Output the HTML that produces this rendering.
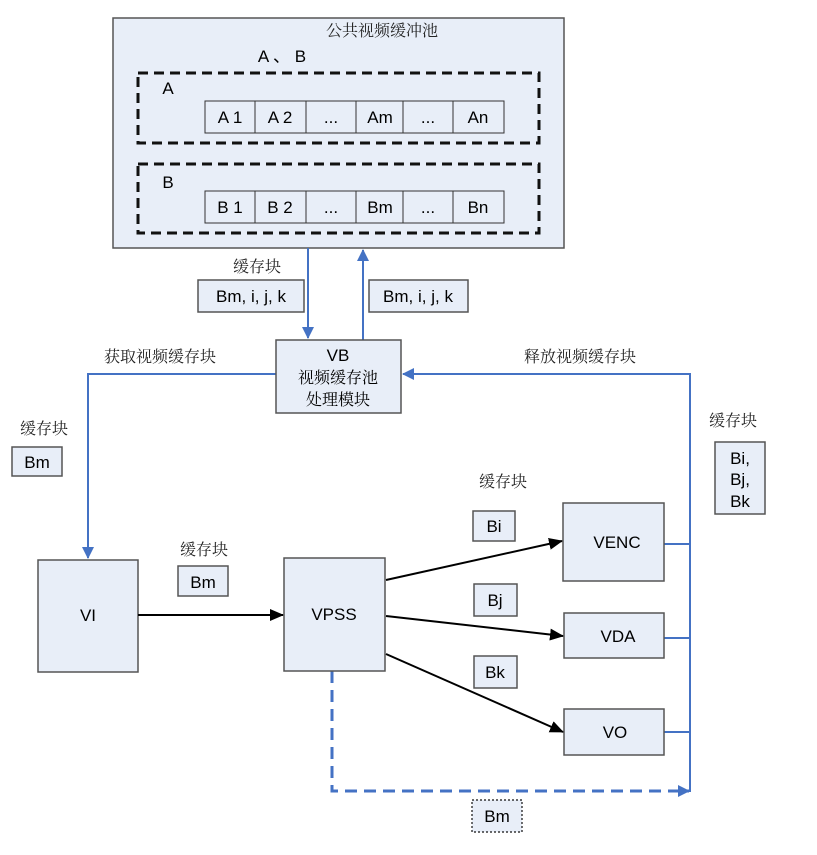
<!DOCTYPE html>
<html><head><meta charset="utf-8"><style>
html,body{margin:0;padding:0;background:#fff;}
svg{display:block;}
.s{font-family:"Liberation Sans","Noto Sans CJK SC",sans-serif;font-size:17px;fill:#000;}
.c{font-family:"Liberation Serif","Noto Serif CJK SC",serif;font-size:16px;fill:#222;}
</style></head><body>
<svg width="817" height="855" viewBox="0 0 817 855" xmlns="http://www.w3.org/2000/svg">
<defs>
<marker id="bk" markerWidth="14" markerHeight="12" refX="13" refY="6" orient="auto" markerUnits="userSpaceOnUse"><path d="M0,0 L14,6 L0,12 z" fill="#000"/></marker>
<marker id="bl" markerWidth="12" markerHeight="14" refX="11" refY="6" orient="auto" markerUnits="userSpaceOnUse"><path d="M0,0 L12,6 L0,12 z" fill="#4472c4"/></marker>
</defs>
<g fill="#e8eef8" stroke="#555" stroke-width="1.5">
<rect x="113" y="18" width="451" height="230"/>
</g>
<text class="c" x="382" y="36" text-anchor="middle">公共视频缓冲池</text>
<text class="s" x="282" y="62" text-anchor="middle">A 、 B</text>
<rect x="138" y="73" width="401" height="70" fill="none" stroke="#111" stroke-width="3" stroke-dasharray="10,6"/>
<rect x="138" y="164" width="401" height="69" fill="none" stroke="#111" stroke-width="3" stroke-dasharray="10,6"/>
<text class="s" x="168" y="94" text-anchor="middle">A</text>
<text class="s" x="168" y="188" text-anchor="middle">B</text>
<g fill="#e8eef8" stroke="#333" stroke-width="1">
<rect x="205" y="101" width="50" height="32"/><rect x="255" y="101" width="51" height="32"/><rect x="306" y="101" width="50" height="32"/><rect x="356" y="101" width="47" height="32"/><rect x="403" y="101" width="50" height="32"/><rect x="453" y="101" width="51" height="32"/>
<rect x="205" y="191" width="50" height="32"/><rect x="255" y="191" width="51" height="32"/><rect x="306" y="191" width="50" height="32"/><rect x="356" y="191" width="47" height="32"/><rect x="403" y="191" width="50" height="32"/><rect x="453" y="191" width="51" height="32"/>
</g>
<g class="s" text-anchor="middle">
<text x="230" y="123">A 1</text><text x="280" y="123">A 2</text><text x="331" y="123">...</text><text x="380" y="123">Am</text><text x="428" y="123">...</text><text x="478" y="123">An</text>
<text x="230" y="213">B 1</text><text x="280" y="213">B 2</text><text x="331" y="213">...</text><text x="380" y="213">Bm</text><text x="428" y="213">...</text><text x="478" y="213">Bn</text>
</g>
<g stroke="#4472c4" stroke-width="2" fill="none">
<line x1="308" y1="248" x2="308" y2="338" marker-end="url(#bl)"/>
<line x1="363" y1="340" x2="363" y2="250" marker-end="url(#bl)"/>
<polyline points="276,374 88,374 88,558" marker-end="url(#bl)"/>
<polyline points="690,792 690,374 403,374" marker-end="url(#bl)"/>
<line x1="664" y1="544" x2="690" y2="544"/>
<line x1="664" y1="638" x2="690" y2="638"/>
<line x1="664" y1="732" x2="690" y2="732"/>
<polyline points="332,671 332,791 689,791" stroke-width="3" stroke-dasharray="12,7" marker-end="url(#bl)"/>
</g>
<g fill="#e8eef8" stroke="#555" stroke-width="1.5">
<rect x="198" y="280" width="106" height="32"/>
<rect x="369" y="280" width="99" height="32"/>
<rect x="276" y="340" width="125" height="73"/>
<rect x="12" y="447" width="50" height="29"/>
<rect x="715" y="442" width="50" height="72"/>
<rect x="38" y="560" width="100" height="112"/>
<rect x="284" y="558" width="101" height="113"/>
<rect x="178" y="566" width="50" height="30"/>
<rect x="563" y="503" width="101" height="78"/>
<rect x="564" y="613" width="100" height="45"/>
<rect x="564" y="709" width="100" height="46"/>
<rect x="473" y="511" width="42" height="30"/>
<rect x="474" y="584" width="43" height="32"/>
<rect x="474" y="656" width="43" height="32"/>
</g>
<rect x="472" y="800" width="50" height="32" fill="#e8eef8" stroke="#111" stroke-width="1.2" stroke-dasharray="2,2"/>
<g stroke="#000" stroke-width="2" fill="none">
<line x1="138" y1="615" x2="283" y2="615" marker-end="url(#bk)"/>
<line x1="386" y1="580" x2="562" y2="541" marker-end="url(#bk)"/>
<line x1="386" y1="616" x2="563" y2="636" marker-end="url(#bk)"/>
<line x1="386" y1="654" x2="563" y2="732" marker-end="url(#bk)"/>
</g>
<g class="c" text-anchor="middle">
<text x="257" y="272">缓存块</text>
<text x="160" y="362">获取视频缓存块</text>
<text x="580" y="362">释放视频缓存块</text>
<text x="44" y="434">缓存块</text>
<text x="733" y="426">缓存块</text>
<text x="503" y="487">缓存块</text>
<text x="204" y="555">缓存块</text>
<text x="338" y="383" fill="#000">视频缓存池</text>
<text x="338" y="405" fill="#000">处理模块</text>
</g>
<g class="s" text-anchor="middle">
<text x="251" y="302">Bm, i, j, k</text>
<text x="418" y="302">Bm, i, j, k</text>
<text x="338" y="361">VB</text>
<text x="37" y="468">Bm</text>
<text x="740" y="464">Bi,</text>
<text x="740" y="485">Bj,</text>
<text x="740" y="507">Bk</text>
<text x="88" y="621">VI</text>
<text x="334" y="620">VPSS</text>
<text x="203" y="588">Bm</text>
<text x="617" y="548">VENC</text>
<text x="618" y="642">VDA</text>
<text x="615" y="738">VO</text>
<text x="494" y="532">Bi</text>
<text x="495" y="606">Bj</text>
<text x="495" y="678">Bk</text>
<text x="497" y="822">Bm</text>
</g>
</svg>
</body></html>
